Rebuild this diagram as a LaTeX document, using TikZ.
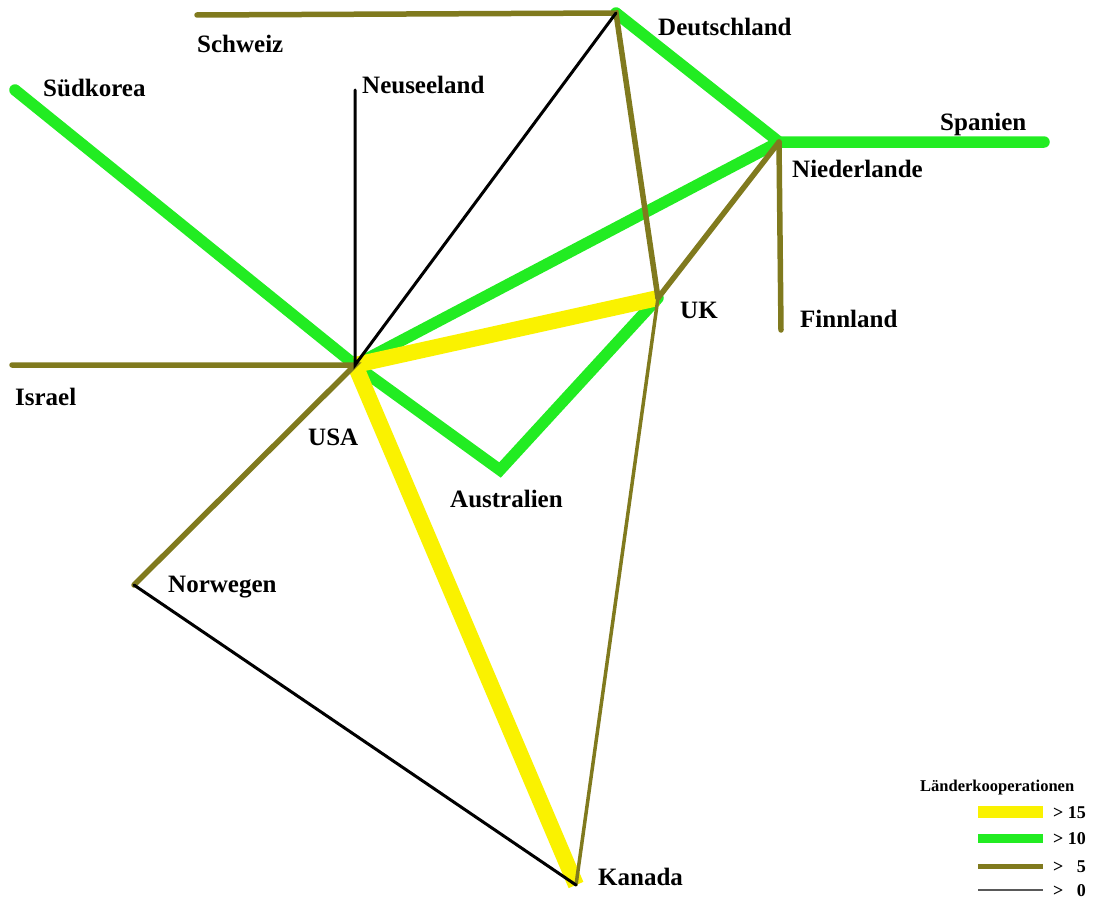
\documentclass[tikz,border=0pt]{standalone}
\usepackage{fontspec}
\setmainfont{Liberation Serif}
\usetikzlibrary{positioning}
\definecolor{koopgelb}{RGB}{250,242,0}
\definecolor{koopgruen}{RGB}{34,236,34}
\definecolor{koopoliv}{RGB}{128,122,30}
\tikzset{
    land/.style={font=\bfseries\fontsize{25}{30}\selectfont, inner sep=0pt, anchor=base west},
    legtext/.style={font=\bfseries\fontsize{18}{22}\selectfont, inner sep=0pt, anchor=base west},
    koop15/.style={draw=koopgelb, line width=16pt},
    koop10/.style={draw=koopgruen, line width=11.5pt, line cap=round},
    koop5/.style={draw=koopoliv, line width=5.5pt, line cap=round},
    koop0/.style={draw=black, line width=3pt, line cap=round},
}

\begin{document}
\begin{tikzpicture}[x=1pt, y=-1pt]
    \useasboundingbox (0,0) rectangle (1096,899);

    % Laender
    \coordinate (usa) at (355,365);
    \coordinate (uk) at (658,298);
    \coordinate (de) at (616,13);
    \coordinate (nl) at (779,142);
    \coordinate (ch) at (197,15);
    \coordinate (es) at (1044,142);
    \coordinate (fi) at (781,330);
    \coordinate (nz) at (355,90);
    \coordinate (kr) at (15,90);
    \coordinate (il) at (12,365);
    \coordinate (au) at (500,470);
    \coordinate (no) at (134,585);
    \coordinate (ca) at (576,885);

    \node[land] (chlab) at (197,53) {Schweiz};
    \node[land] (delab) at (658,36) {Deutschland};
    \node[land] (nzlab) at (362,93) {Neuseeland};
    \node[land] (krlab) at (43,96) {Südkorea};
    \node[land] (eslab) at (940,130) {Spanien};
    \node[land] (nllab) at (792,177) {Niederlande};
    \node[land] (filab) at (800,327) {Finnland};
    \node[land] (uklab) at (680,318) {UK};
    \node[land] (illab) at (15,405) {Israel};
    \node[land] (usalab) at (308,445) {USA};
    \node[land] (aulab) at (450,507) {Australien};
    \node[land] (nolab) at (168,592) {Norwegen};
    \node[land] (calab) at (598,885) {Kanada};

    % Kooperationen
    \path[koop10] (kr) -- (usa);
    \path[koop10] (usa) -- (nl);
    \path[koop10] (usa) -- (au) -- (uk);
    \path[koop10] (de) -- (nl) -- (es);
    \path[koop15] (usa) -- (uk);
    \path[koop15] (usa) -- (ca);
    \path[koop5] (ch) -- (de) -- (uk);
    \path[koop5] (nl) -- (uk);
    \path[koop5] (nl) -- (fi);
    \path[koop5] (il) -- (usa) -- (no);
    \path[koop5, line width=3.5pt] (uk) -- (ca);
    \path[koop0] (nz) -- (usa) -- (de);
    \path[koop0] (no) -- (ca);

    % Legende
    \node[legtext, font=\bfseries\fontsize{16.5}{20}\selectfont] (legtitel) at (920,791) {Länderkooperationen};
    \foreach \name/\ypos/\text in {a/812/{> 15}, b/838/{> 10}, c/866/{> \phantom{1}5}, d/890/{> \phantom{1}0}} {
        \coordinate (leg\name1) at (978,\ypos);
        \coordinate (leg\name2) at (1043,\ypos);
        \node[legtext] (leg\name txt) at (1053,\ypos+6) {\text};
    }
    \path[draw=koopgelb, line width=12pt] (lega1) -- (lega2);
    \path[draw=koopgruen, line width=9pt] (legb1) -- (legb2);
    \path[draw=koopoliv, line width=5pt] (legc1) -- (legc2);
    \path[draw=gray!70!black, line width=1.5pt] (legd1) -- (legd2);
\end{tikzpicture}
\end{document}
